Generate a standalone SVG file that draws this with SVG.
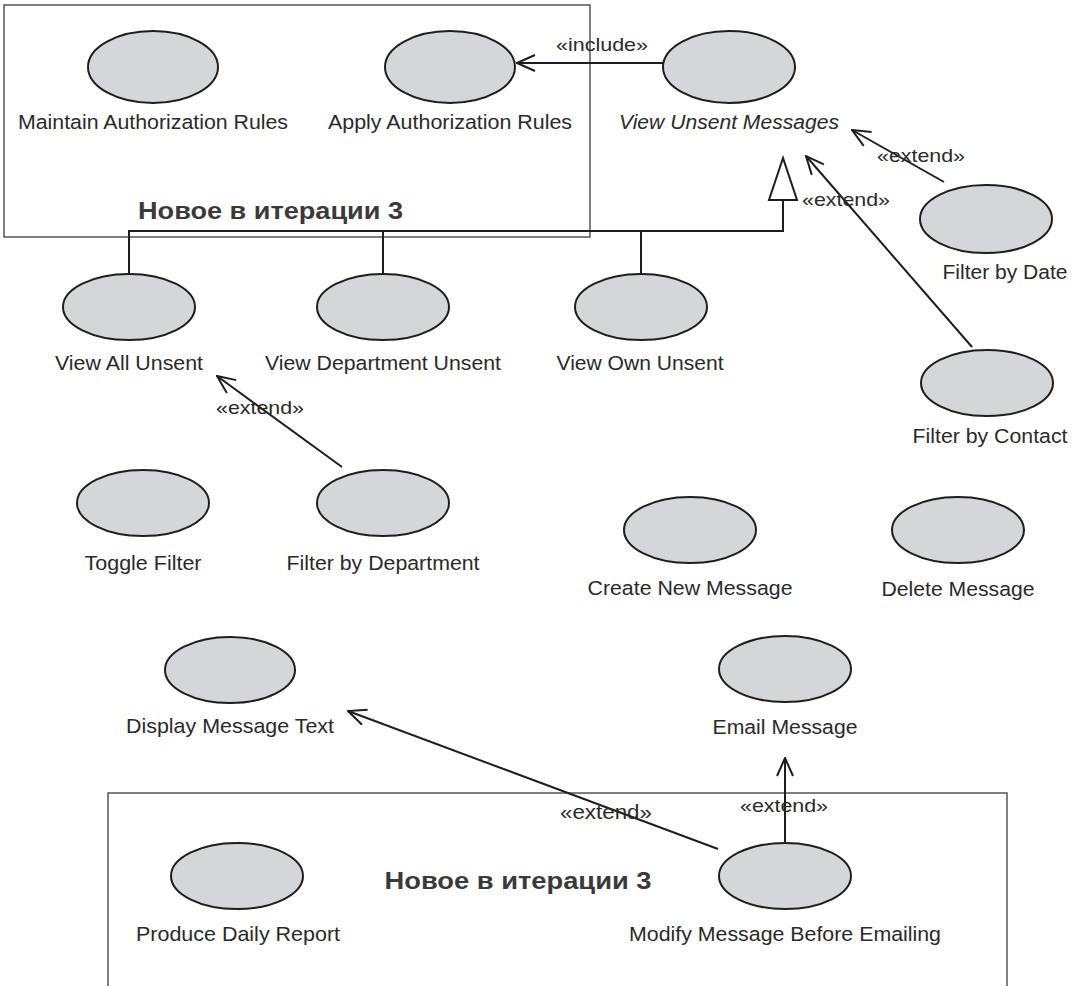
<svg xmlns="http://www.w3.org/2000/svg" width="1081" height="986" viewBox="0 0 1081 986">
  <style>
    .uc { fill: #d5d6d8; stroke: #1e1e1e; stroke-width: 2; }
    .lbl { font-family: "Liberation Sans", Arial, sans-serif; font-size: 20.5px; fill: #2a2a2a; text-anchor: middle; }
    .nar { font-family: "Liberation Sans Narrow", "Liberation Sans", Arial, sans-serif; font-size: 21px; fill: #2a2a2a; text-anchor: middle; }
    .st { font-family: "Liberation Sans", Arial, sans-serif; font-size: 19px; fill: #2a2a2a; text-anchor: middle; }
    .title { font-family: "Liberation Sans", Arial, sans-serif; font-weight: bold; fill: #3a3a3a; }
    .frame { fill: none; stroke: #555; stroke-width: 1.5; }
    .conn { fill: none; stroke: #1e1e1e; stroke-width: 2; }
  </style>
  <defs>
    <marker id="open" markerUnits="userSpaceOnUse" viewBox="0 0 20 20" refX="19" refY="10" markerWidth="20" markerHeight="20" orient="auto">
      <path d="M1,2 L19,10 L1,18" fill="none" stroke="#1e1e1e" stroke-width="2"/>
    </marker>
  </defs>
  <rect width="1081" height="986" fill="#fff"/>

  <!-- iteration frames -->
  <g id="frame-top">
    <rect class="frame" x="4" y="5" width="586" height="232"/>
    <text class="title" x="138" y="219" font-size="23" textLength="265" lengthAdjust="spacingAndGlyphs">Новое в итерации 3</text>
  </g>
  <g id="frame-bottom">
    <path class="frame" d="M108,990 V793 H1007 V990"/>
    <text class="title" x="518" y="889" font-size="24" text-anchor="middle" textLength="267" lengthAdjust="spacingAndGlyphs">Новое в итерации 3</text>
  </g>

  <!-- connectors -->
  <g id="connectors">
    <!-- include -->
    <line class="conn" x1="663" y1="63" x2="517" y2="63" marker-end="url(#open)"/>
    <text class="st" x="602" y="51" textLength="92" lengthAdjust="spacingAndGlyphs">«include»</text>
    <!-- generalization tree -->
    <path class="conn" d="M129,275 V231 H783 V200"/>
    <line class="conn" x1="383" y1="231" x2="383" y2="275"/>
    <line class="conn" x1="641" y1="231" x2="641" y2="275"/>
    <polygon points="783,158 769,200 797,200" fill="#fff" stroke="#1e1e1e" stroke-width="2"/>
    <!-- extends -->
    <line class="conn" x1="944" y1="182" x2="852" y2="130" marker-end="url(#open)"/>
    <text class="st" x="921" y="162" textLength="88" lengthAdjust="spacingAndGlyphs">«extend»</text>
    <line class="conn" x1="972" y1="347" x2="806" y2="156" marker-end="url(#open)"/>
    <text class="st" x="846" y="206" textLength="88" lengthAdjust="spacingAndGlyphs">«extend»</text>
    <line class="conn" x1="342" y1="467" x2="217" y2="376" marker-end="url(#open)"/>
    <text class="st" x="260" y="414" textLength="88" lengthAdjust="spacingAndGlyphs">«extend»</text>
    <line class="conn" x1="718" y1="849" x2="348" y2="711" marker-end="url(#open)"/>
    <text class="nar" x="606" y="819" font-size="19" textLength="92" lengthAdjust="spacingAndGlyphs">«extend»</text>
    <line class="conn" x1="785" y1="842" x2="785" y2="758" marker-end="url(#open)"/>
    <text class="st" x="784" y="812" textLength="88" lengthAdjust="spacingAndGlyphs">«extend»</text>
  </g>

  <!-- use cases -->
  <g id="maintain-authorization-rules">
    <ellipse class="uc" cx="153" cy="67" rx="65" ry="36"/>
    <text class="lbl" x="153" y="129" textLength="270" lengthAdjust="spacingAndGlyphs">Maintain Authorization Rules</text>
  </g>
  <g id="apply-authorization-rules">
    <ellipse class="uc" cx="450" cy="67" rx="65" ry="36"/>
    <text class="lbl" x="450" y="129" textLength="244" lengthAdjust="spacingAndGlyphs">Apply Authorization Rules</text>
  </g>
  <g id="view-unsent-messages">
    <ellipse class="uc" cx="729" cy="67" rx="66" ry="36"/>
    <text class="lbl" x="729" y="129" font-style="italic" textLength="220" lengthAdjust="spacingAndGlyphs">View Unsent Messages</text>
  </g>
  <g id="filter-by-date">
    <ellipse class="uc" cx="986" cy="219" rx="66" ry="34"/>
    <text class="lbl" x="1005" y="279" textLength="125" lengthAdjust="spacingAndGlyphs">Filter by Date</text>
  </g>
  <g id="view-all-unsent">
    <ellipse class="uc" cx="129" cy="307" rx="66" ry="33"/>
    <text class="lbl" x="129" y="370" textLength="148" lengthAdjust="spacingAndGlyphs">View All Unsent</text>
  </g>
  <g id="view-department-unsent">
    <ellipse class="uc" cx="383" cy="307" rx="66" ry="33"/>
    <text class="lbl" x="383" y="370" textLength="236" lengthAdjust="spacingAndGlyphs">View Department Unsent</text>
  </g>
  <g id="view-own-unsent">
    <ellipse class="uc" cx="641" cy="307" rx="66" ry="33"/>
    <text class="lbl" x="640" y="370" textLength="167" lengthAdjust="spacingAndGlyphs">View Own Unsent</text>
  </g>
  <g id="filter-by-contact">
    <ellipse class="uc" cx="987" cy="383" rx="66" ry="33"/>
    <text class="lbl" x="990" y="443" textLength="155" lengthAdjust="spacingAndGlyphs">Filter by Contact</text>
  </g>
  <g id="toggle-filter">
    <ellipse class="uc" cx="143" cy="503" rx="66" ry="33"/>
    <text class="lbl" x="143" y="570" textLength="117" lengthAdjust="spacingAndGlyphs">Toggle Filter</text>
  </g>
  <g id="filter-by-department">
    <ellipse class="uc" cx="383" cy="503" rx="66" ry="33"/>
    <text class="lbl" x="383" y="570" textLength="193" lengthAdjust="spacingAndGlyphs">Filter by Department</text>
  </g>
  <g id="create-new-message">
    <ellipse class="uc" cx="690" cy="530" rx="66" ry="33"/>
    <text class="lbl" x="690" y="595" textLength="205" lengthAdjust="spacingAndGlyphs">Create New Message</text>
  </g>
  <g id="delete-message">
    <ellipse class="uc" cx="958" cy="530" rx="66" ry="33"/>
    <text class="lbl" x="958" y="596" textLength="153" lengthAdjust="spacingAndGlyphs">Delete Message</text>
  </g>
  <g id="display-message-text">
    <ellipse class="uc" cx="230" cy="670" rx="65" ry="33"/>
    <text class="nar" x="230" y="733" textLength="208" lengthAdjust="spacingAndGlyphs">Display Message Text</text>
  </g>
  <g id="email-message">
    <ellipse class="uc" cx="785" cy="669" rx="66" ry="33"/>
    <text class="lbl" x="785" y="734" textLength="145" lengthAdjust="spacingAndGlyphs">Email Message</text>
  </g>
  <g id="produce-daily-report">
    <ellipse class="uc" cx="237" cy="876" rx="66" ry="33"/>
    <text class="nar" x="238" y="941" textLength="204" lengthAdjust="spacingAndGlyphs">Produce Daily Report</text>
  </g>
  <g id="modify-message-before-emailing">
    <ellipse class="uc" cx="785" cy="876" rx="66" ry="33"/>
    <text class="lbl" x="785" y="941" textLength="312" lengthAdjust="spacingAndGlyphs">Modify Message Before Emailing</text>
  </g>
</svg>
